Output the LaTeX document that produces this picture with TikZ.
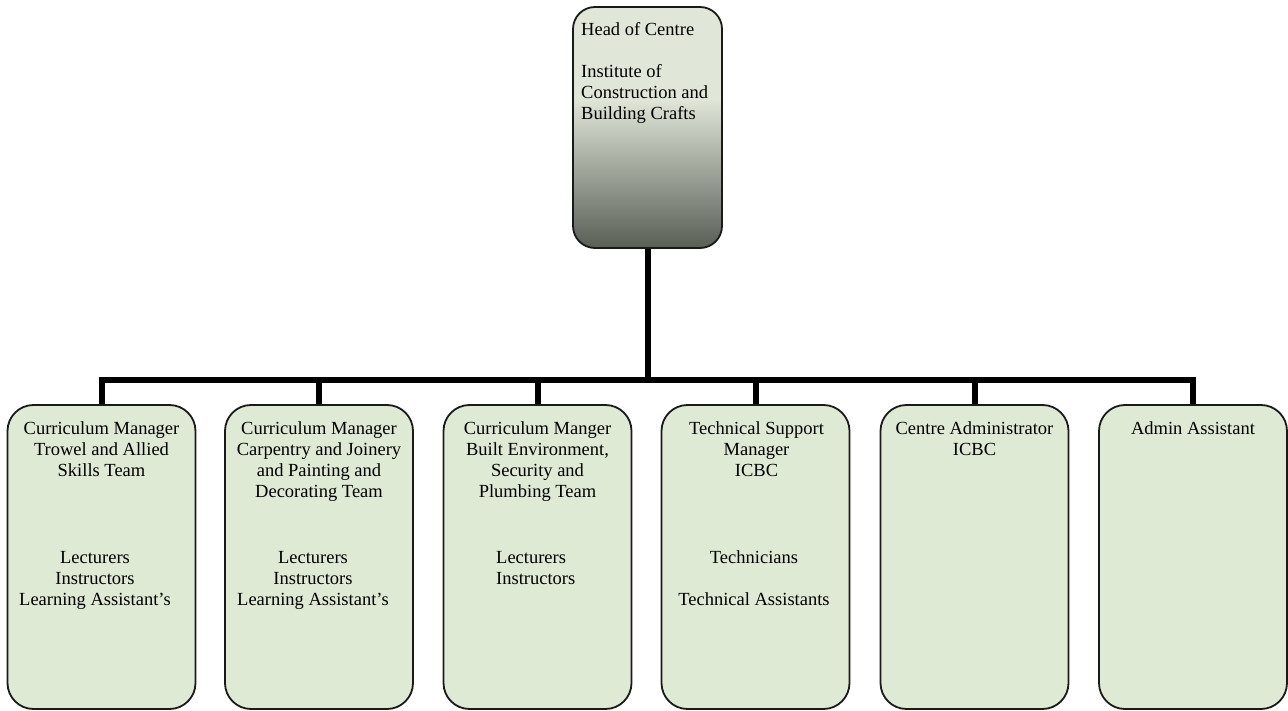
\documentclass[tikz,border=0pt]{standalone}
\usepackage{fontspec}
\setmainfont{Liberation Serif}
\definecolor{boxline}{RGB}{26,26,26}
\definecolor{unitfill}{RGB}{223,234,212}
\definecolor{headtop}{RGB}{224,230,216}
\definecolor{headbottom}{RGB}{90,95,86}
% vertical fade for the head box: light upper part, darkening towards the bottom
\pgfdeclareverticalshading{headfade}{100bp}{color(0bp)=(headbottom); color(25bp)=(headbottom); color(56bp)=(headtop); color(100bp)=(headtop)}
\begin{document}
\begin{tikzpicture}[x=1pt,y=-1pt,
  every node/.style={font=\fontsize{18.5}{21}\selectfont},
  headbox/.style={draw=boxline, line width=1.8pt, rounded corners=22pt,
    minimum width=149pt, minimum height=241pt, inner sep=0pt, shading=headfade},
  unitbox/.style={draw=boxline, line width=1.8pt, rounded corners=26pt, fill=unitfill,
    minimum width=188pt, minimum height=304pt, inner sep=0pt},
  txt/.style={inner sep=0pt, align=center, anchor=north},
  conn/.style={line width=6pt, draw=black}
]
\useasboundingbox (0,0) rectangle (1288,711);

% head of centre
\node[headbox] (top) at (647.5,127.5) {};
\node[inner sep=0pt, align=left, anchor=north west] (toptxt) at (581,22.4)
  {Head of Centre\\[21pt]Institute of\\Construction and\\Building Crafts};

% the six units
\node[unitbox] (u1) at (101.5,557) {};
\node[unitbox] (u2) at (319,557) {};
\node[unitbox] (u3) at (537.5,557) {};
\node[unitbox] (u4) at (755.5,557) {};
\node[unitbox] (u5) at (974.5,557) {};
\node[unitbox] (u6) at (1193,557) {};

% titles
\node[txt] (h1) at (101.5,421.4) {Curriculum Manager\\Trowel and Allied\\Skills Team};
\node[txt] (h2) at (319,421.4) {Curriculum Manager\\Carpentry and Joinery\\and Painting and\\Decorating Team};
\node[txt] (h3) at (537.5,421.4) {Curriculum Manger\\Built Environment,\\Security and\\Plumbing Team};
\node[txt] (h4) at (756.5,421.4) {Technical Support\\Manager\\ICBC};
\node[txt] (h5) at (974.5,421.4) {Centre Administrator\\ICBC};
\node[txt] (h6) at (1193,421.4) {Admin Assistant};

% staff
\node[txt] (s1) at (95,551) {Lecturers\\Instructors\\Learning Assistant’s};
\node[txt] (s2) at (313,551) {Lecturers\\Instructors\\Learning Assistant’s};
\node[inner sep=0pt, align=left, anchor=north west] (s3) at (496,551) {Lecturers\\Instructors};
\node[txt] (s4) at (754,550.4) {Technicians\\[21pt]Technical Assistants};

% reporting lines
\path (top.south) ++(0,131) coordinate (j);
\draw[conn] (top.south) -- (j);
\draw[conn] (u1.north) -- (u1.north |- j) -- (u6.north |- j) -- (u6.north);
\foreach \k in {2,...,5}
  \draw[conn] (u\k.north) -- (u\k.north |- j);
\end{tikzpicture}
\end{document}
